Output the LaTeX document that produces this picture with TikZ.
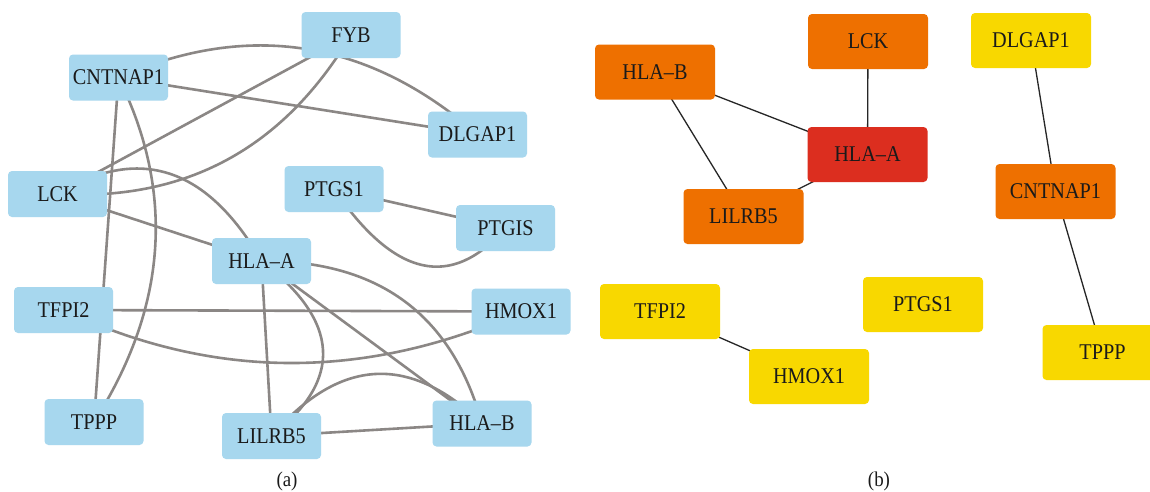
\documentclass[tikz,border=0pt]{standalone}
\usepackage{fontspec}
\setmainfont{Liberation Serif}
\newfontfamily\genefont[FakeStretch=0.9]{Liberation Serif}
\usetikzlibrary{calc}
\pgfdeclarelayer{bg}
\pgfdeclarelayer{edges}
\pgfsetlayers{bg,edges,main}
\definecolor{boxblue}{HTML}{A7D7EE}
\definecolor{edgegray}{HTML}{8B8785}
\definecolor{boxorange}{HTML}{EE7000}
\definecolor{boxred}{HTML}{DC2E1F}
\definecolor{boxyellow}{HTML}{F8D800}
\definecolor{txt}{HTML}{1A1A1A}
\tikzset{
  gene/.style={rectangle, rounded corners=4pt, inner sep=0pt, text=txt, font=\genefont\fontsize{22.5}{26}\selectfont},
  ga/.style={gene, fill=boxblue, minimum width=99pt, minimum height=46pt},
  gb/.style={gene, minimum width=120pt, minimum height=55pt},
  ea/.style={draw=edgegray, line width=2.6pt},
  eb/.style={draw=black!85, line width=1.3pt},
  qcurve/.style={to path={.. controls ($(\tikztostart)!0.6667!(#1)$) and ($(\tikztotarget)!0.6667!(#1)$) .. (\tikztotarget)}},
  panellabel/.style={text=txt, font=\genefont\fontsize{21}{24}\selectfont},
}
\begin{document}
\begin{tikzpicture}[x=1pt, y=-1pt]
\useasboundingbox (0,0) rectangle (1150,491);
\begin{pgfonlayer}{bg}
  \fill[white] (0,0) rectangle (1150,491);
\end{pgfonlayer}
\clip (0,0) rectangle (1150,491);

% ---------- panel (a) ----------
\node[ga] (cnt)   at (118.5,77.5) {CNTNAP1};
\node[ga] (fyb)   at (351,35)     {FYB};
\node[ga] (dlg)   at (477.5,134.5){DLGAP1};
\node[ga] (lck)   at (57.5,194)   {LCK};
\node[ga] (ptgs)  at (334,189)    {PTGS1};
\node[ga] (ptgis) at (505.5,228)  {PTGIS};
\node[ga] (hlaa)  at (261.5,261)  {HLA–A};
\node[ga] (tfpi)  at (63.5,310)   {TFPI2};
\node[ga] (hmox)  at (521,311.5)  {HMOX1};
\node[ga] (tppp)  at (94,422)     {TPPP};
\node[ga] (lil)   at (271.5,436)  {LILRB5};
\node[ga] (hlab)  at (482,423.5)  {HLA–B};
\node[panellabel] (la) at (287,481) {(a)};

\coordinate (q1) at (314,-8);
\coordinate (q2) at (250,205);
\coordinate (q3) at (203.75,250);
\coordinate (q4) at (180,120);
\coordinate (q5) at (379.5,351.5);
\coordinate (q6) at (437,260);
\coordinate (q7) at (373.25,318.25);
\coordinate (q8) at (287.75,415.25);
\coordinate (q9) at (424.25,321.5);

\begin{pgfonlayer}{edges}
  \draw[ea] (cnt.center) -- (dlg.center);
  \draw[ea] (cnt.center) to[qcurve=q1] (dlg.center);
  \draw[ea] (lck.center) -- (fyb.center);
  \draw[ea] (lck.center) to[qcurve=q2] (fyb.center);
  \draw[ea] (cnt.center) -- (tppp.center);
  \draw[ea] (cnt.center) to[qcurve=q3] (tppp.center);
  \draw[ea] (lck.center) -- (hlaa.center);
  \draw[ea] (lck.center) to[qcurve=q4] (hlaa.center);
  \draw[ea] (hlaa.center) -- (lil.center);
  \draw[ea] (hlaa.center) to[qcurve=q5] (lil.center);
  \draw[ea] (hlaa.center) -- (hlab.center);
  \draw[ea] (hlaa.center) to[qcurve=q6] (hlab.center);
  \draw[ea] (lil.center) -- (hlab.center);
  \draw[ea] (lil.center) to[qcurve=q7] (hlab.center);
  \draw[ea] (tfpi.center) -- (hmox.center);
  \draw[ea] (tfpi.center) to[qcurve=q8] (hmox.center);
  \draw[ea] (ptgs.center) -- (ptgis.center);
  \draw[ea] (ptgs.center) to[qcurve=q9] (ptgis.center);
\end{pgfonlayer}

% ---------- panel (b) ----------
\node[gb, fill=boxorange] (bhlab) at (655,72)      {HLA–B};
\node[gb, fill=boxorange] (blck)  at (868,41.5)    {LCK};
\node[gb, fill=boxyellow] (bdlg)  at (1031,40.5)   {DLGAP1};
\node[gb, fill=boxred]    (bhlaa) at (867.5,154.5) {HLA–A};
\node[gb, fill=boxorange] (blil)  at (743.5,216.5) {LILRB5};
\node[gb, fill=boxorange] (bcnt)  at (1055.5,191.5){CNTNAP1};
\node[gb, fill=boxyellow] (btfpi) at (660,311.5)   {TFPI2};
\node[gb, fill=boxyellow] (bhmox) at (809,376.5)   {HMOX1};
\node[gb, fill=boxyellow] (bptgs) at (923,304.5)   {PTGS1};
\node[gb, fill=boxyellow] (btppp) at (1102.5,352.5){TPPP};
\node[panellabel] (lb) at (879,481) {(b)};

\begin{pgfonlayer}{edges}
  \draw[eb] (bhlab.center) -- (bhlaa.center);
  \draw[eb] (blck.center) -- (bhlaa.center);
  \draw[eb] (bhlab.center) -- (blil.center);
  \draw[eb] (bhlaa.center) -- (blil.center);
  \draw[eb] (bdlg.center) -- (bcnt.center);
  \draw[eb] (bcnt.center) -- (btppp.center);
  \draw[eb] (btfpi.center) -- (bhmox.center);
\end{pgfonlayer}
\end{tikzpicture}
\end{document}
